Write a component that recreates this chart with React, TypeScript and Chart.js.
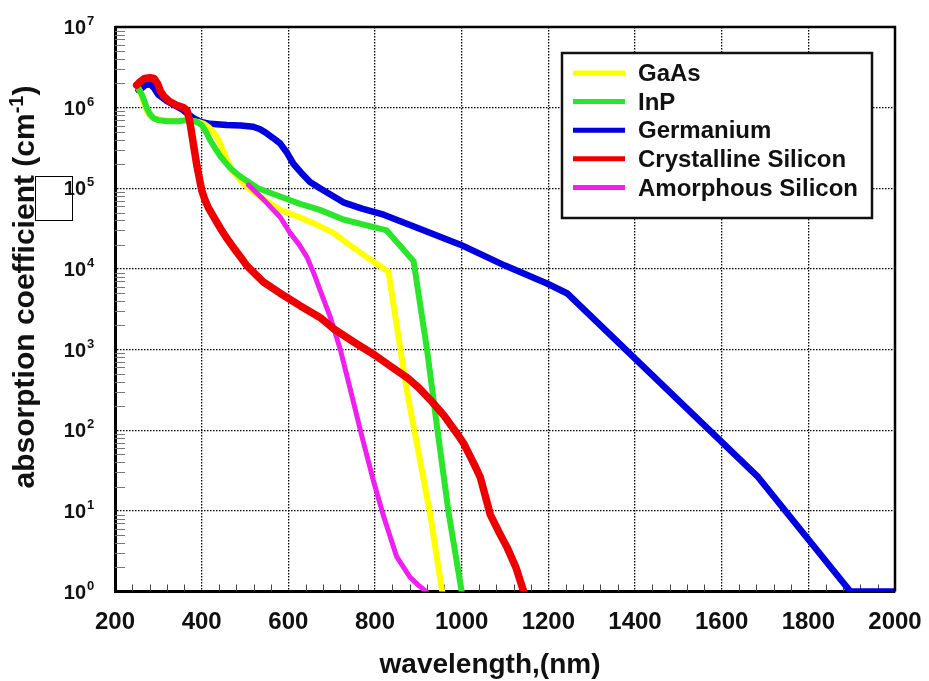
import { useEffect, useRef } from 'react';
import { Chart, registerables } from 'chart.js';

Chart.register(...registerables);

const FONT = '"Liberation Sans", Arial, Helvetica, sans-serif';

const seriesNames = ['GaAs', 'InP', 'Germanium', 'Crystalline Silicon', 'Amorphous Silicon'];
const seriesColors = ['#ffff00', '#2ae62a', '#0000e0', '#ee0000', '#f01ef0'];
const seriesWidths = [6, 6, 6.5, 7.5, 5];
const seriesOrder = [3, 2, 4, 0, 1];

const gaasWavelength = [250, 258, 265, 272, 280, 290, 310, 340, 370, 395, 405, 415, 427, 435, 443, 450, 458, 465, 473, 490, 504, 540, 581, 620, 658, 704, 740, 781, 810, 831, 873, 927, 955];
const gaasAbsorption = [1.9e6, 1.6e6, 1.2e6, 9.5e5, 8.0e5, 7.4e5, 7.0e5, 6.9e5, 7.0e5, 6.6e5, 6.3e5, 5.8e5, 5.0e5, 4.3e5, 3.6e5, 2.9e5, 2.3e5, 1.9e5, 1.6e5, 1.25e5, 1.05e5, 7.5e4, 5.4e4, 4.5e4, 3.7e4, 2.8e4, 2.0e4, 1.4e4, 1.1e4, 9.3e3, 3.2e2, 9.3, 1];

const inpWavelength = [255, 262, 268, 273, 280, 289, 300, 320, 345, 366, 385, 400, 410, 419, 430, 443, 465, 489, 530, 581, 627, 673, 727, 797, 827, 889, 920, 943, 970, 1000];
const inpAbsorption = [1.7e6, 1.45e6, 1.2e6, 1.0e6, 8.4e5, 7.4e5, 7.0e5, 6.8e5, 6.8e5, 7.0e5, 6.8e5, 6.1e5, 5.0e5, 4.0e5, 3.2e5, 2.5e5, 1.8e5, 1.4e5, 1.0e5, 7.9e4, 6.4e4, 5.4e4, 4.1e4, 3.3e4, 3.0e4, 1.25e4, 1.0e3, 1.12e2, 9.4, 1];

const geWavelength = [254, 262, 270, 281, 290, 300, 320, 340, 355, 366, 380, 396, 420, 458, 490, 519, 535, 550, 565, 581, 596, 612, 630, 650, 673, 700, 727, 770, 820, 900, 997, 1100, 1197, 1243, 1682, 1897, 2000];
const geAbsorption = [1.65e6, 1.75e6, 1.9e6, 1.95e6, 1.75e6, 1.45e6, 1.2e6, 1.05e6, 9.5e5, 8.5e5, 7.5e5, 6.7e5, 6.3e5, 6.1e5, 6.0e5, 5.8e5, 5.4e5, 4.8e5, 4.2e5, 3.6e5, 2.8e5, 2.0e5, 1.55e5, 1.2e5, 1.0e5, 8.2e4, 6.7e4, 5.6e4, 4.7e4, 3.2e4, 2.0e4, 1.1e4, 6.6e3, 5.0e3, 2.7e1, 1, 1];

const csiWavelength = [250, 258, 268, 281, 290, 298, 305, 312, 325, 342, 358, 366, 372, 377, 383, 389, 395, 400, 407, 415, 428, 443, 458, 473, 490, 504, 542, 581, 627, 673, 705, 750, 800, 840, 874, 900, 927, 960, 989, 1005, 1020, 1033, 1043, 1055, 1066, 1085, 1105, 1125, 1143];
const csiAbsorption = [1.9e6, 2.1e6, 2.3e6, 2.35e6, 2.3e6, 2.0e6, 1.6e6, 1.4e6, 1.2e6, 1.07e6, 1.0e6, 9.3e5, 7.0e5, 4.8e5, 3.0e5, 1.9e5, 1.3e5, 9.5e4, 7.3e4, 5.8e4, 4.4e4, 3.2e4, 2.4e4, 1.85e4, 1.4e4, 1.1e4, 6.9e3, 5.0e3, 3.5e3, 2.5e3, 1.8e3, 1.25e3, 8.5e2, 6.0e2, 4.5e2, 3.4e2, 2.4e2, 1.5e2, 9.1e1, 6.8e1, 4.7e1, 3.4e1, 2.6e1, 1.5e1, 9.0, 5.6, 3.5, 2.0, 1];

const asiWavelength = [508, 540, 581, 604, 625, 643, 660, 673, 696, 720, 743, 770, 796, 820, 850, 881, 900, 918];
const asiAbsorption = [1.1e5, 7.5e4, 4.4e4, 2.8e4, 2.0e4, 1.4e4, 8.5e3, 5.5e3, 2.6e3, 1.0e3, 3.2e2, 83, 24, 8.5, 2.7, 1.5, 1.2, 1];

const xTickValues = [200, 400, 600, 800, 1000, 1200, 1400, 1600, 1800, 2000];
const yExponents = [0, 1, 2, 3, 4, 5, 6, 7];
const xTitle = 'wavelength,(nm)';
const yTitleMain = 'absorption coefficient (cm';
const yTitleSup = '-1';
const yTitleEnd = ')';

const seriesWavelengths = [gaasWavelength, inpWavelength, geWavelength, csiWavelength, asiWavelength];
const seriesAbsorptions = [gaasAbsorption, inpAbsorption, geAbsorption, csiAbsorption, asiAbsorption];

const decorPlugin = {
  id: 'decor',
  beforeDatasetsDraw(chart: any) {
    const { ctx, chartArea, scales } = chart;
    const xs = scales.x;
    const ys = scales.y;
    ctx.save();
    ctx.strokeStyle = '#444';
    ctx.lineWidth = 1;
    for (let v = 200; v <= 2000; v += 40) {
      if (v % 200 === 0) continue;
      const px = Math.round(xs.getPixelForValue(v)) + 0.5;
      ctx.beginPath();
      ctx.moveTo(px, chartArea.bottom);
      ctx.lineTo(px, chartArea.bottom - 7);
      ctx.stroke();
    }
    ctx.strokeStyle = '#777';
    for (let e = 0; e < 7; e++) {
      for (let m = 2; m <= 9; m++) {
        const py = Math.round(ys.getPixelForValue(m * Math.pow(10, e))) + 0.5;
        ctx.beginPath();
        ctx.moveTo(chartArea.left, py);
        ctx.lineTo(chartArea.left + 10, py);
        ctx.stroke();
      }
    }
    ctx.restore();
  },
  afterDraw(chart: any) {
    const { ctx, chartArea, scales } = chart;
    const ys = scales.y;
    ctx.save();
    ctx.strokeStyle = '#000';
    ctx.lineWidth = 2.5;
    ctx.beginPath();
    ctx.moveTo(chartArea.left, chartArea.top);
    ctx.lineTo(chartArea.right, chartArea.top);
    ctx.lineTo(chartArea.right, chartArea.bottom);
    ctx.stroke();

    ctx.fillStyle = '#111';
    for (const e of yExponents) {
      const py = ys.getPixelForValue(Math.pow(10, e));
      ctx.font = `bold 20px ${FONT}`;
      ctx.textAlign = 'right';
      ctx.textBaseline = 'alphabetic';
      ctx.fillText('10', 86, py + 7);
      ctx.font = `bold 13px ${FONT}`;
      ctx.textAlign = 'left';
      ctx.fillText(String(e), 87, py - 2);
    }

    ctx.save();
    ctx.translate(34, 287);
    ctx.rotate(-Math.PI / 2);
    ctx.textBaseline = 'alphabetic';
    ctx.textAlign = 'left';
    ctx.font = `bold 30px ${FONT}`;
    const w1 = ctx.measureText(yTitleMain).width;
    const w3 = ctx.measureText(yTitleEnd).width;
    ctx.font = `bold 20px ${FONT}`;
    const w2 = ctx.measureText(yTitleSup).width;
    let x0 = -(w1 + w2 + w3) / 2;
    ctx.font = `bold 30px ${FONT}`;
    ctx.fillText(yTitleMain, x0, 0);
    x0 += w1;
    ctx.font = `bold 20px ${FONT}`;
    ctx.fillText(yTitleSup, x0, -11);
    x0 += w2;
    ctx.font = `bold 30px ${FONT}`;
    ctx.fillText(yTitleEnd, x0, 0);
    ctx.restore();

    ctx.font = `bold 28px ${FONT}`;
    ctx.textAlign = 'center';
    ctx.textBaseline = 'alphabetic';
    ctx.fillText(xTitle, 490, 673);

    const lx = 562, ly = 53, lw = 310, lh = 165;
    ctx.fillStyle = '#fff';
    ctx.fillRect(lx, ly, lw, lh);
    ctx.strokeStyle = '#111';
    ctx.lineWidth = 2.5;
    ctx.strokeRect(lx, ly, lw, lh);
    ctx.font = `bold 24px ${FONT}`;
    ctx.textAlign = 'left';
    ctx.textBaseline = 'middle';
    seriesNames.forEach((name, i) => {
      const ry = ly + 20 + i * 28.6;
      ctx.strokeStyle = seriesColors[i];
      ctx.lineWidth = 5;
      ctx.beginPath();
      ctx.moveTo(lx + 11, ry);
      ctx.lineTo(lx + 63, ry);
      ctx.stroke();
      ctx.fillStyle = '#111';
      ctx.fillText(name, lx + 76, ry + 1.5);
    });
    ctx.restore();
  },
};

export default function App() {
  const canvasRef = useRef<HTMLCanvasElement | null>(null);

  useEffect(() => {
    const canvas = canvasRef.current;
    if (!canvas) return;
    const datasets = seriesNames.map((name, i) => ({
      label: name,
      data: seriesWavelengths[i].map((w, k) => ({ x: w, y: seriesAbsorptions[i][k] })),
      borderColor: seriesColors[i],
      backgroundColor: seriesColors[i],
      borderWidth: seriesWidths[i],
      pointRadius: 0,
      fill: false,
      tension: 0,
      order: seriesOrder[i],
      clip: 0,
    }));
    const chart = new Chart(canvas, {
      type: 'line',
      data: { datasets },
      options: {
        animation: false,
        responsive: false,
        devicePixelRatio: 1,
        layout: { padding: { top: 27, right: 34, left: 0, bottom: 0 } },
        plugins: { legend: { display: false }, tooltip: { enabled: false } },
        elements: { line: { borderCapStyle: 'round', borderJoinStyle: 'round' } },
        scales: {
          x: {
            type: 'linear',
            min: 200,
            max: 2000,
            afterFit: (s: any) => { s.height = 89.5; s.paddingLeft = 0; s.paddingRight = 0; },
            afterBuildTicks: (s: any) => { s.ticks = xTickValues.map((v) => ({ value: v })); },
            ticks: {
              autoSkip: false,
              maxRotation: 0,
              padding: 16,
              color: '#111',
              font: { family: FONT, size: 24, weight: 'bold' },
              callback: (v: any) => String(v),
            },
            grid: { drawTicks: false, color: '#000', lineWidth: 1.3 },
            border: { display: true, color: '#000', width: 3, dash: [1.5, 1.5] },
          },
          y: {
            type: 'logarithmic',
            min: 1,
            max: 1e7,
            afterFit: (s: any) => { s.width = 115; },
            afterBuildTicks: (s: any) => { s.ticks = yExponents.map((e) => ({ value: Math.pow(10, e) })); },
            ticks: { display: false },
            grid: { drawTicks: false, color: '#000', lineWidth: 1.3 },
            border: { display: true, color: '#000', width: 3, dash: [1.5, 1.5] },
          },
        },
      },
      plugins: [decorPlugin],
    } as any);
    return () => chart.destroy();
  }, []);

  return (
    <div style={{ position: 'fixed', left: 0, top: 0, width: 929, height: 681, background: '#fff' }}>
      <canvas ref={canvasRef} width={929} height={681} style={{ display: 'block' }} />
      <div style={{ position: 'absolute', left: 35, top: 176, width: 36, height: 43, border: '1px solid #000', pointerEvents: 'none' }} />
    </div>
  );
}
